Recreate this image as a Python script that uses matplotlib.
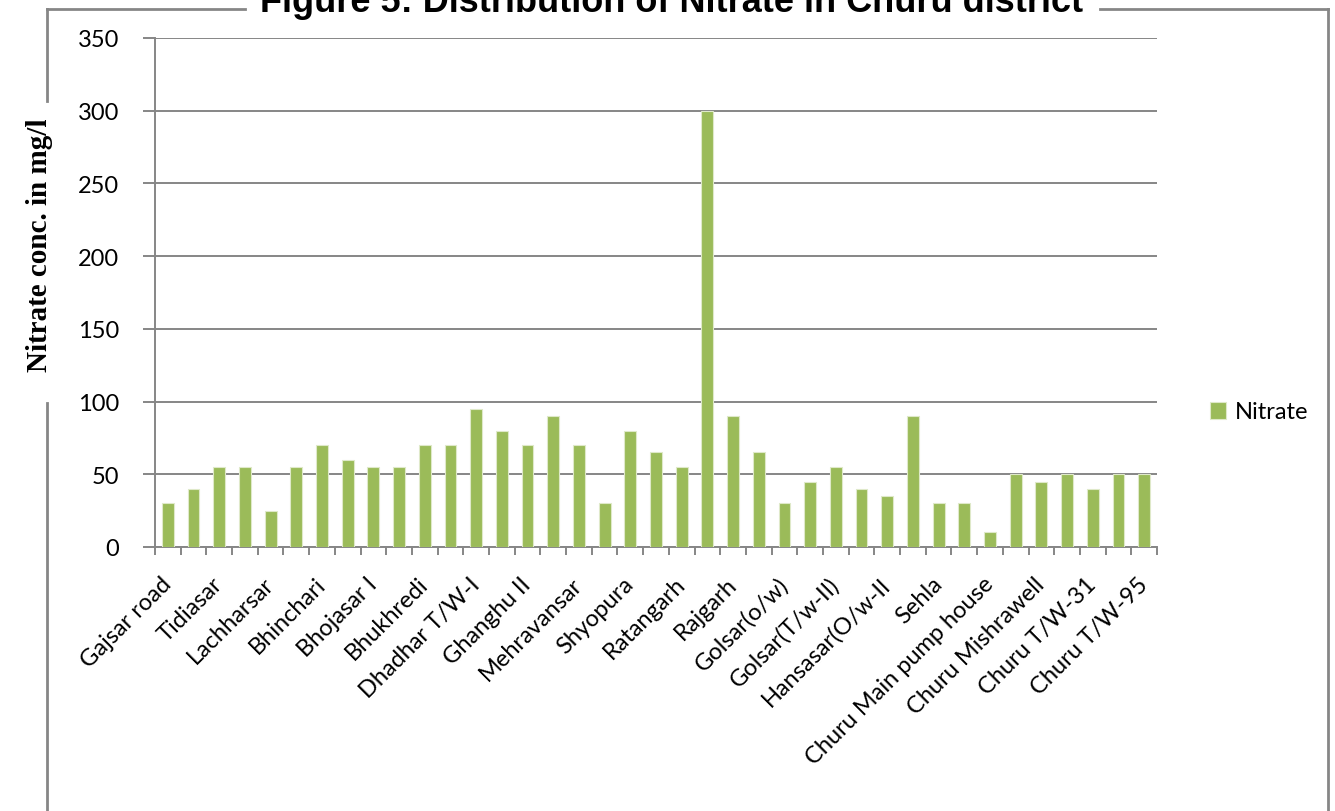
import matplotlib.pyplot as plt
from matplotlib.lines import Line2D
import numpy as np

# nitrate values for every sampling site (39 bars)
nitrate = [30, 40, 55, 55, 25, 55, 70, 60, 55, 55,
           70, 70, 95, 80, 70, 90, 70, 30, 80, 65,
           55, 300, 90, 65, 30, 45, 55, 40, 35, 90,
           30, 30, 10, 50, 45, 50, 40, 50, 50]

# only every other site name is printed on the axis
shown_labels = ["Gajsar road", "Tidiasar", "Lachharsar", "Bhinchari", "Bhojasar I",
                "Bhukhredi", "Dhadhar T/W-I", "Ghanghu II", "Mehravansar", "Shyopura",
                "Ratangarh", "Rajgarh", "Golsar(o/w)", "Golsar(T/w-II)", "Hansasar(O/w-II",
                "Sehla", "Churu Main pump house", "Churu Mishrawell", "Churu T/W-31",
                "Churu T/W-95"]

y_ticks = [0, 50, 100, 150, 200, 250, 300, 350]

BAR_COLOR = "#9BBB59"
GRID_COLOR = "#868686"
TICK_FONT = ["Lato", "DejaVu Sans"]

W, H = 1335, 812
fig = plt.figure(figsize=(W / 100, H / 100), dpi=100)
ax = fig.add_axes([155 / W, 1 - 548 / H, (1157 - 155) / W, (548 - 39) / H])

x = np.arange(len(nitrate))
ax.bar(x, nitrate, width=0.46, color=BAR_COLOR, edgecolor="#dfe9c9",
       linewidth=0.8, label="Nitrate", zorder=3)

ax.set_xlim(-0.5, len(nitrate) - 0.5)
ax.set_ylim(0, 350)
ax.set_yticks(y_ticks)
ax.set_yticklabels([str(v) for v in y_ticks], fontfamily=TICK_FONT, fontsize=17)
ax.yaxis.grid(True, color=GRID_COLOR, linewidth=1.4, zorder=0)

ax.set_xticks(x[::2])
ax.set_xticklabels(shown_labels, rotation=45, ha="right", va="center",
                   rotation_mode="anchor", fontfamily=TICK_FONT, fontsize=17)
ax.tick_params(axis="x", length=0, pad=24)
ax.set_xticks(np.arange(-0.5, len(nitrate)), minor=True)
ax.tick_params(axis="x", which="minor", length=6, width=1.4, color=GRID_COLOR)
ax.tick_params(axis="y", length=9, width=1.4, color=GRID_COLOR, pad=17)

for side in ["top", "right"]:
    ax.spines[side].set_visible(False)
for side in ["left", "bottom"]:
    ax.spines[side].set_color(GRID_COLOR)
    ax.spines[side].set_linewidth(1.4)

ax.legend(loc="center left", bbox_to_anchor=(1198 / W, 1 - 413 / H),
          bbox_transform=fig.transFigure, frameon=False, borderpad=0,
          handlelength=0.7, handleheight=0.7, handletextpad=0.35,
          prop={"family": TICK_FONT, "size": 17})

fig.text(0.503, 1 - 12 / H, "Figure 5: Distribution of Nitrate in Churu district",
         ha="center", va="baseline", fontsize=26, fontweight="bold",
         fontfamily="Liberation Sans")
fig.text(40 / W, 1 - 245 / H, "Nitrate conc. in mg/l", rotation=90,
         ha="center", va="center", fontsize=21, fontweight="bold",
         fontfamily="Liberation Serif")

# broken outer frame of the chart area
frame = [((47, 47), (10, 102)), ((47, 47), (404, 812)),
         ((47, 245), (10, 10)), ((1100, 1328), (10, 10)),
         ((1328, 1328), (10, 812))]
for xs, ys in frame:
    fig.add_artist(Line2D([v / W for v in xs], [1 - v / H for v in ys],
                          color=GRID_COLOR, linewidth=2))

fig.savefig("out.png", dpi=100)
